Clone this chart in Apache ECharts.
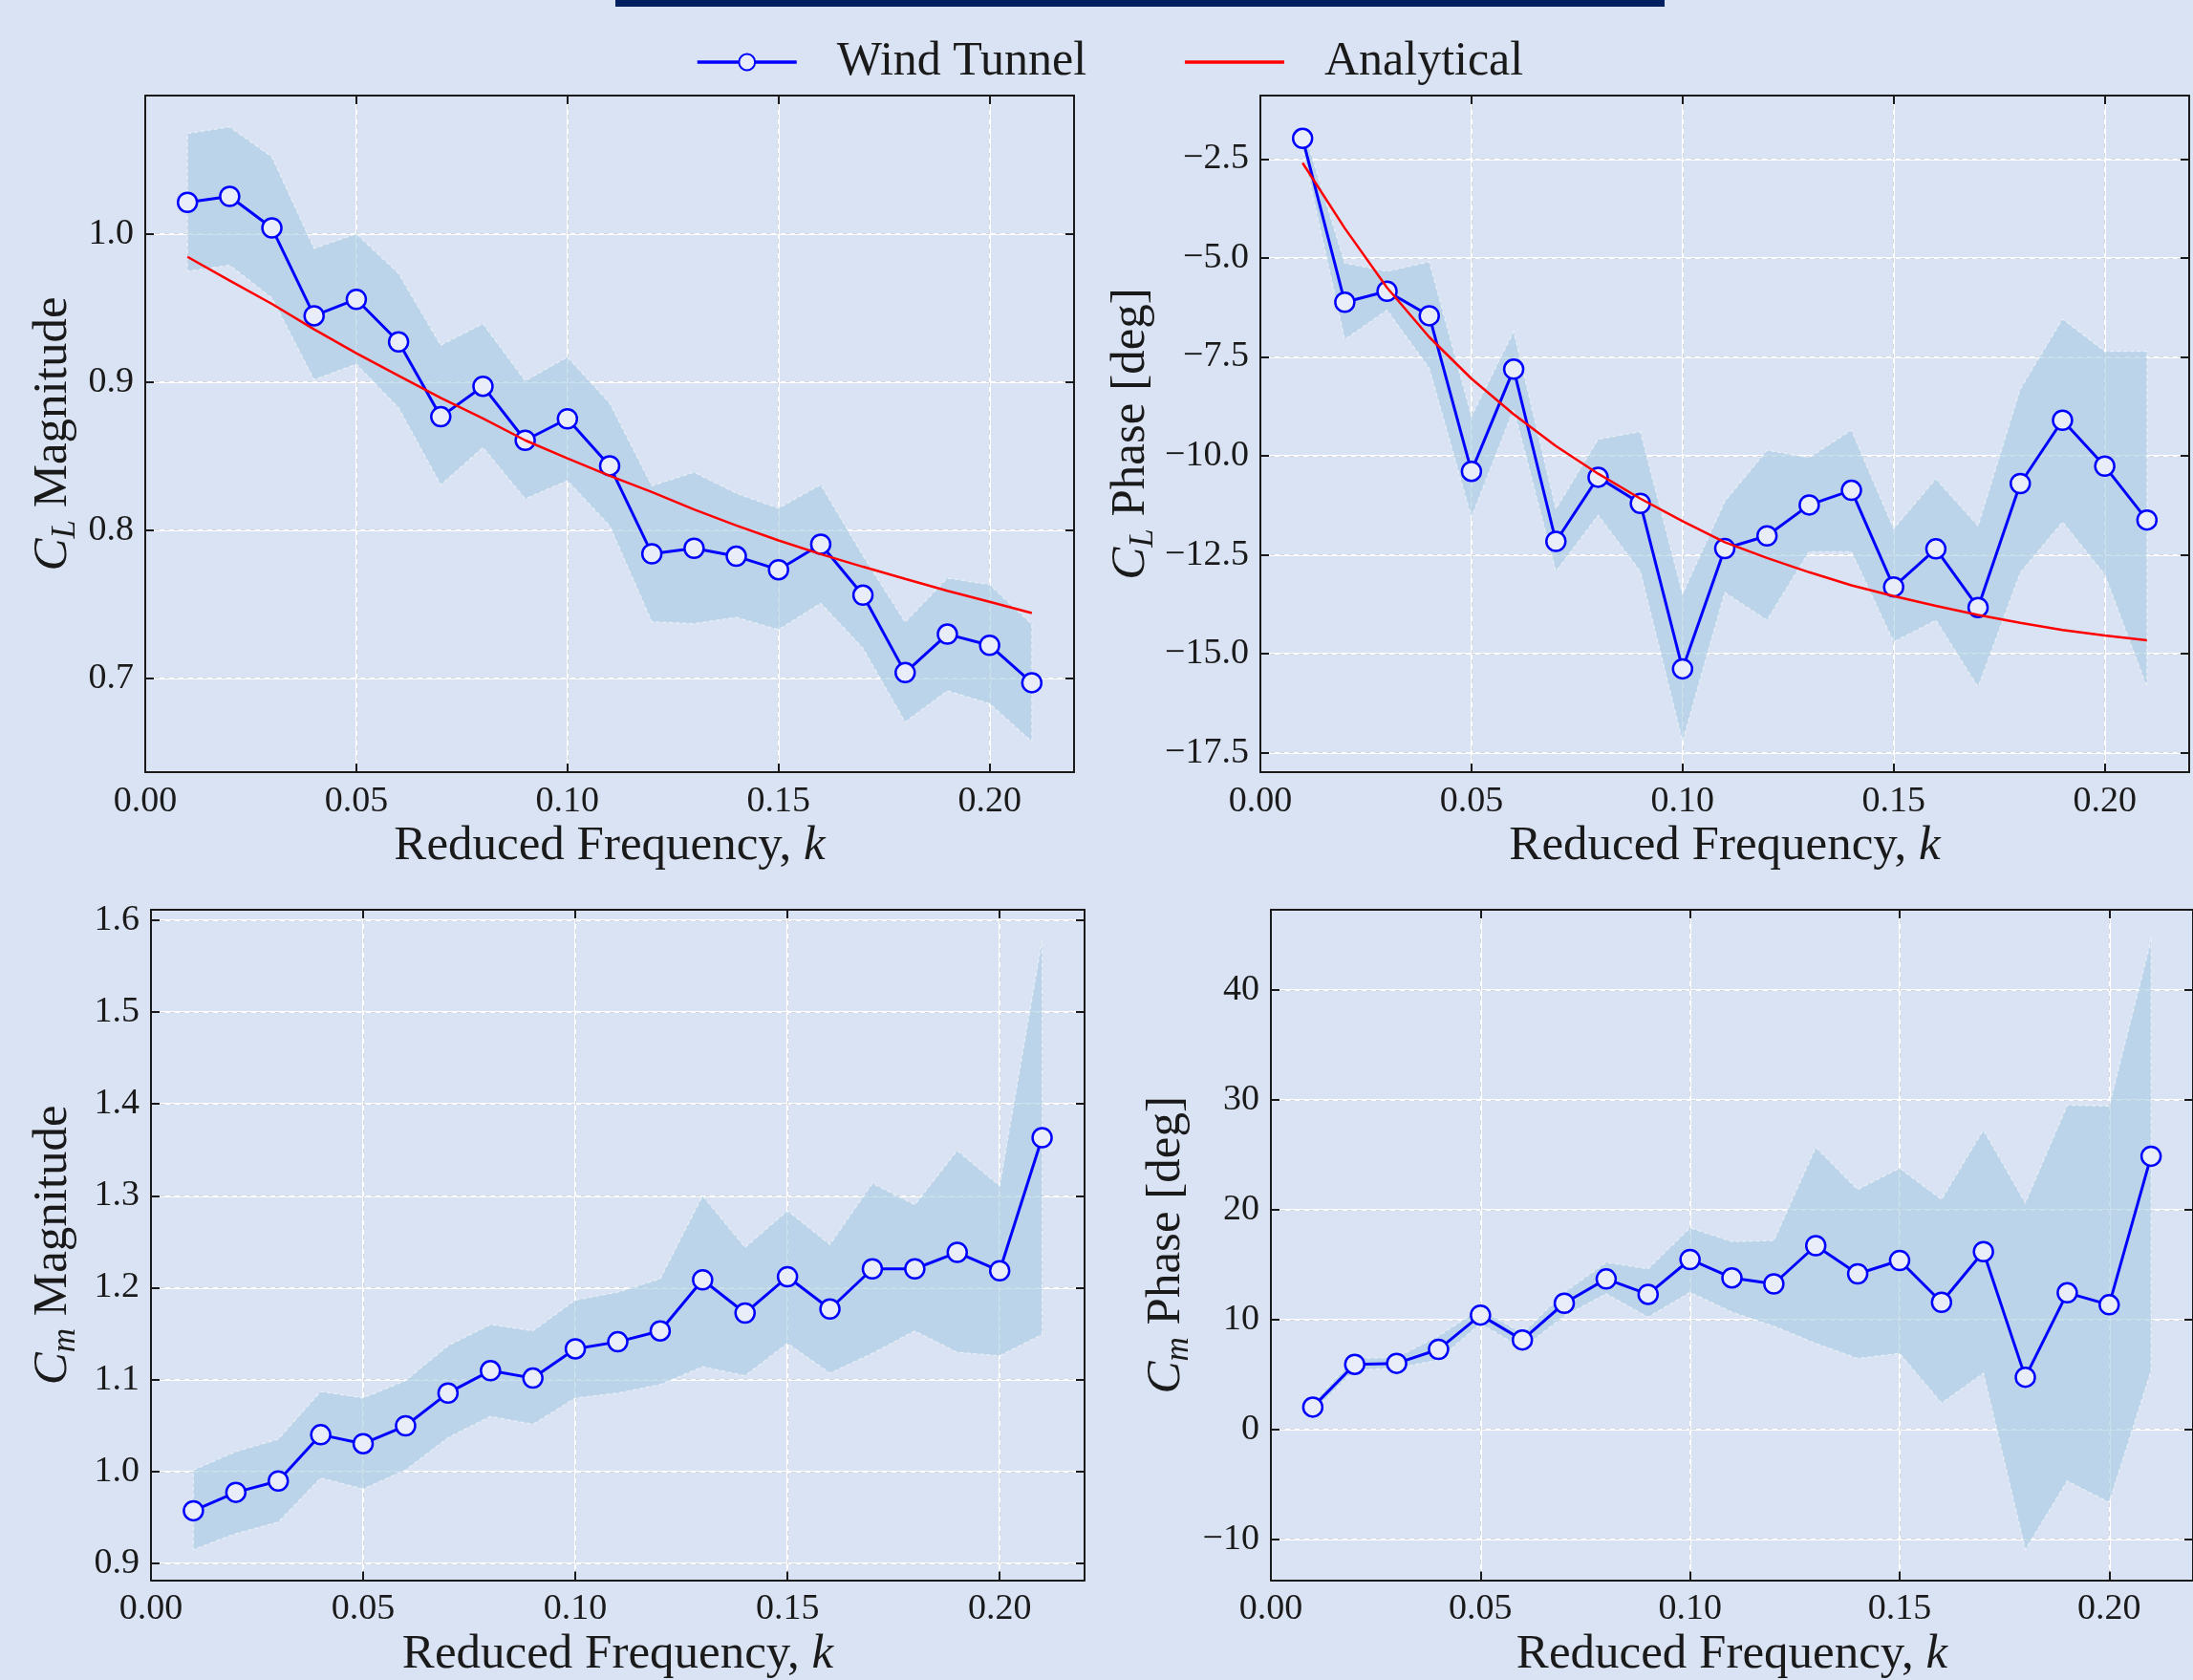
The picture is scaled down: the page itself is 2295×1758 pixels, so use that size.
<!DOCTYPE html>
<html>
<head>
<meta charset="utf-8">
<script src="https://cdn.jsdelivr.net/npm/echarts@6/dist/echarts.min.js"></script>
<style>
  html, body { margin: 0; padding: 0; background: #dae3f3; }
  #chart { width: 2295px; height: 1758px; }
</style>
</head>
<body>
<div id="chart"></div>
<script>
// Reduced frequency samples shared by all four panels
const k = [0.01, 0.02, 0.03, 0.04, 0.05, 0.06, 0.07, 0.08, 0.09, 0.10, 0.11,
           0.12, 0.13, 0.14, 0.15, 0.16, 0.17, 0.18, 0.19, 0.20, 0.21];

// Lift magnitude
const clMag      = [1.0213, 1.0253, 1.004, 0.9447, 0.9558, 0.9271, 0.8765, 0.8971, 0.8606, 0.8751, 0.8434,
                    0.784, 0.7877, 0.7823, 0.7732, 0.7904, 0.756, 0.7037, 0.7297, 0.7222, 0.6969];
const clMagHi    = [1.0678, 1.0722, 1.052, 0.9902, 1.0, 0.9733, 0.9248, 0.9393, 0.9008, 0.9168, 0.8858,
                    0.8299, 0.839, 0.8248, 0.8147, 0.8306, 0.7827, 0.7378, 0.7675, 0.7631, 0.7364];
const clMagLo    = [0.9748, 0.9788, 0.9567, 0.9015, 0.912, 0.8825, 0.8305, 0.8557, 0.8211, 0.8333, 0.8029,
                    0.7381, 0.7368, 0.7411, 0.7327, 0.7506, 0.7202, 0.6703, 0.6915, 0.6828, 0.6571];
const clMagModel = [0.9845, 0.9685, 0.9527, 0.9355, 0.9194, 0.9043, 0.8892, 0.8753, 0.8606, 0.8484, 0.8366,
                    0.8257, 0.8139, 0.8031, 0.793, 0.7837, 0.7752, 0.767, 0.759, 0.7515, 0.7439];

// Lift phase [deg]
const clPh      = [-1.98, -6.12, -5.84, -6.46, -10.39, -7.81, -12.16, -10.54, -11.2, -15.38, -12.34,
                   -12.02, -11.24, -10.87, -13.31, -12.35, -13.83, -10.7, -9.1, -10.26, -11.62];
const clPhHi    = [-1.675, -5.13, -5.34, -5.1, -9.0, -6.86, -11.34, -9.58, -9.39, -13.49, -11.15,
                   -9.86, -10.04, -9.35, -11.84, -10.58, -11.77, -8.31, -6.54, -7.36, -7.36];
const clPhLo    = [-2.25, -7.06, -6.32, -7.79, -11.55, -8.82, -12.92, -11.5, -12.92, -17.21, -13.45,
                   -14.15, -12.42, -12.42, -14.7, -14.15, -15.84, -12.95, -11.67, -13.0, -15.84];
const clPhModel = [-2.6, -4.25, -5.75, -7.0, -8.05, -8.95, -9.75, -10.45, -11.08, -11.65, -12.18,
                   -12.58, -12.94, -13.27, -13.54, -13.79, -14.02, -14.22, -14.4, -14.54, -14.66];

// Moment magnitude
const cmMag   = [0.9573, 0.9773, 0.9897, 1.04, 1.0303, 1.0497, 1.0854, 1.1097, 1.1016, 1.1335, 1.1411,
                 1.153, 1.2086, 1.1724, 1.2119, 1.1768, 1.2205, 1.2205, 1.2384, 1.2184, 1.3632];
const cmMagHi = [1.0016, 1.0216, 1.0351, 1.087, 1.08, 1.0989, 1.1368, 1.16, 1.153, 1.1865, 1.1951,
                 1.2097, 1.3, 1.2438, 1.2838, 1.247, 1.3135, 1.2903, 1.3492, 1.3108, 1.5784];
const cmMagLo = [0.9151, 0.9324, 0.9449, 0.993, 0.981, 1.0016, 1.0368, 1.06, 1.0514, 1.08, 1.0854,
                 1.0946, 1.114, 1.1043, 1.1395, 1.107, 1.1286, 1.153, 1.1297, 1.1259, 1.1492];

// Moment phase [deg]
const cmPh   = [2.03, 5.92, 6.01, 7.28, 10.4, 8.14, 11.48, 13.69, 12.29, 15.46, 13.79,
                13.24, 16.72, 14.15, 15.37, 11.57, 16.18, 4.75, 12.43, 11.34, 24.86];
const cmPhHi = [2.4, 6.46, 6.55, 8.5, 10.98, 8.72, 12.47, 15.19, 14.6, 18.35, 17.08,
                17.18, 25.67, 21.83, 23.77, 20.93, 27.25, 20.61, 29.51, 29.42, 44.52];
const cmPhLo = [1.6, 5.42, 5.56, 6.33, 9.63, 7.37, 10.31, 12.34, 10.21, 12.47, 10.67,
                9.4, 7.82, 6.46, 6.92, 2.4, 5.11, -10.94, -4.7, -6.64, 5.33];

// Tick values
const kTicks     = [0, 0.05, 0.10, 0.15, 0.20];
const clMagTicks = [0.7, 0.8, 0.9, 1.0];
const clPhTicks  = [-17.5, -15, -12.5, -10, -7.5, -5, -2.5];
const cmMagTicks = [0.9, 1.0, 1.1, 1.2, 1.3, 1.4, 1.5, 1.6];
const cmPhTicks  = [-10, 0, 10, 20, 30, 40];

const FONT = '"Liberation Serif", "Times New Roman", serif';
const INK = '#1a1a1a';
const BLUE = '#0000ff';
const RED = '#ff0000';

function tickFormatter(decimals) {
  return function (v) {
    const s = Math.abs(v) < 1e-9 ? (0).toFixed(decimals) : Number(v).toFixed(decimals);
    return s.replace('-', '\u2212');
  };
}

const panels = [
  { grid: { left: 152, top: 100, width: 972, height: 708 },
    values: clMag, upper: clMagHi, lower: clMagLo, model: clMagModel,
    yMin: 0.6365, yMax: 1.0934, yTicks: clMagTicks, yDecimals: 1,
    sub: 'L', title: 'Magnitude', nameGap: 66 },
  { grid: { left: 1319, top: 100, width: 972, height: 708 },
    values: clPh, upper: clPhHi, lower: clPhLo, model: clPhModel,
    yMin: -17.99, yMax: -0.898, yTicks: clPhTicks, yDecimals: 1,
    sub: 'L', title: 'Phase [deg]', nameGap: 105 },
  { grid: { left: 158, top: 952, width: 977, height: 713 },
    values: cmMag, upper: cmMagHi, lower: cmMagLo, model: null,
    yMin: 0.8818, yMax: 1.6112, yTicks: cmMagTicks, yDecimals: 1,
    sub: 'm', title: 'Magnitude', nameGap: 72 },
  { grid: { left: 1330, top: 952, width: 979, height: 713 },
    values: cmPh, upper: cmPhHi, lower: cmPhLo, model: null,
    yMin: -13.72, yMax: 47.29, yTicks: cmPhTicks, yDecimals: 0,
    sub: 'm', title: 'Phase [deg]', nameGap: 79 }
];

const frameLine = { show: true, onZero: false, lineStyle: { color: INK, width: 2 } };
const solidGrid = { show: true, lineStyle: { color: '#ffffff', width: 2 } };
const dashGrid = { show: true, lineStyle: { color: '#d3d7de', width: 1, type: [5, 5] } };
function ticks(values) {
  return { show: true, inside: true, length: 9, customValues: values, lineStyle: { color: INK, width: 2 } };
}

const grids = [], xAxes = [], yAxes = [], series = [];

panels.forEach(function (p, i) {
  grids.push(Object.assign({ containLabel: false }, p.grid));

  const xBase = { type: 'value', gridIndex: i, min: 0, max: 0.22, axisLine: frameLine, axisTick: ticks(kTicks) };
  xAxes.push(Object.assign({}, xBase, {
    position: 'bottom',
    axisLabel: { customValues: kTicks, formatter: tickFormatter(2), fontFamily: FONT, fontSize: 38, color: INK, margin: 12 },
    splitLine: solidGrid,
    name: '{r|Reduced Frequency, }{i|k}',
    nameLocation: 'middle', nameGap: 49,
    nameTextStyle: { rich: {
      r: { fontFamily: FONT, fontSize: 51, color: INK, lineHeight: 58 },
      i: { fontFamily: FONT, fontSize: 51, fontStyle: 'italic', color: INK, lineHeight: 58 }
    } }
  }));
  xAxes.push(Object.assign({}, xBase, { position: 'top', axisLabel: { show: false }, splitLine: dashGrid }));

  const yBase = { type: 'value', gridIndex: i, min: p.yMin, max: p.yMax, axisLine: frameLine, axisTick: ticks(p.yTicks) };
  yAxes.push(Object.assign({}, yBase, {
    position: 'left',
    axisLabel: { customValues: p.yTicks, formatter: tickFormatter(p.yDecimals), fontFamily: FONT, fontSize: 38, color: INK, margin: 12 },
    splitLine: solidGrid,
    name: '{c|C}{s|' + p.sub + '}{r| ' + p.title + '}',
    nameLocation: 'middle', nameRotate: 90, nameGap: p.nameGap,
    nameTextStyle: { rich: {
      c: { fontFamily: FONT, fontSize: 51, fontStyle: 'italic', color: INK, lineHeight: 60 },
      s: { fontFamily: FONT, fontSize: 35, fontStyle: 'italic', color: INK, lineHeight: 35, verticalAlign: 'bottom' },
      r: { fontFamily: FONT, fontSize: 51, color: INK, lineHeight: 60 }
    } }
  }));
  yAxes.push(Object.assign({}, yBase, { position: 'right', axisLabel: { show: false }, splitLine: dashGrid }));

  // Spread band (upper bound forward, lower bound back)
  series.push({
    type: 'custom', name: 'spread' + i, xAxisIndex: 2 * i, yAxisIndex: 2 * i,
    silent: true, z: 1,
    data: k.map(function (x, j) { return [x, p.lower[j], p.upper[j]]; }),
    encode: { x: 0, y: [1, 2] },
    renderItem: function (params, api) {
      if (params.dataIndex !== 0) return null;
      const pts = [];
      for (let j = 0; j < k.length; j++) pts.push(api.coord([k[j], p.upper[j]]));
      for (let j = k.length - 1; j >= 0; j--) pts.push(api.coord([k[j], p.lower[j]]));
      return {
        type: 'polygon', shape: { points: pts },
        style: { fill: 'rgba(170,204,226,0.62)', stroke: 'rgba(255,255,255,0.55)', lineWidth: 1.2, lineDash: [4, 3] }
      };
    }
  });

  series.push({
    type: 'line', name: 'Wind Tunnel', xAxisIndex: 2 * i, yAxisIndex: 2 * i, z: 3,
    data: k.map(function (x, j) { return [x, p.values[j]]; }),
    symbol: 'circle', symbolSize: 20, showAllSymbol: true,
    lineStyle: { color: BLUE, width: 3 },
    itemStyle: { color: '#e9edfa', borderColor: BLUE, borderWidth: 2.5 }
  });

  if (p.model) {
    series.push({
      type: 'line', name: 'Analytical', xAxisIndex: 2 * i, yAxisIndex: 2 * i, z: 4,
      data: k.map(function (x, j) { return [x, p.model[j]]; }),
      symbol: 'none', smooth: false,
      lineStyle: { color: RED, width: 2.5 },
      itemStyle: { color: RED }
    });
  }
});

const chart = echarts.init(document.getElementById('chart'), null, { renderer: 'canvas' });
chart.setOption({
  backgroundColor: '#dae3f3',
  animation: false,
  graphic: [{
    type: 'rect', left: 644, top: 0, shape: { width: 1098, height: 7 },
    style: { fill: '#00205f' }, z: 10
  }],
  legend: {
    data: [
      { name: 'Wind Tunnel' },
      { name: 'Analytical', itemStyle: { opacity: 0, borderWidth: 0 } }
    ],
    left: 728, top: 40, padding: 0,
    itemWidth: 104, itemHeight: 21, itemGap: 101,
    lineStyle: { width: 3.5 },
    textStyle: { fontFamily: FONT, fontSize: 50, color: INK, padding: [0, 0, 0, 37] }
  },
  grid: grids,
  xAxis: xAxes,
  yAxis: yAxes,
  series: series
});
</script>
</body>
</html>
